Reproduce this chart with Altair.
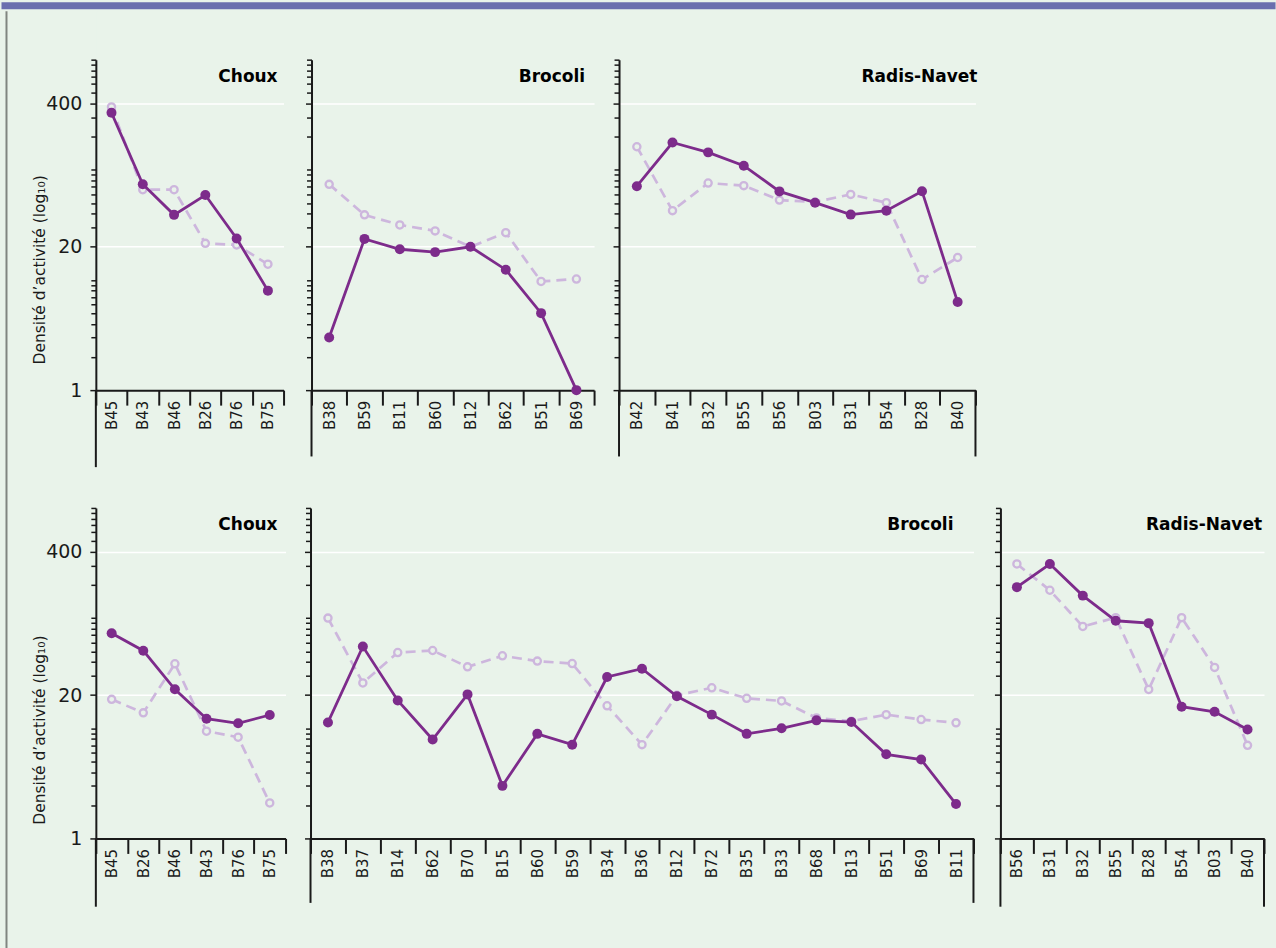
import altair as alt
import pandas as pd

# ---- values (activity density, log scale) ----
top_choux_cats = ["B45", "B43", "B46", "B26", "B76", "B75"]
top_choux_solid = [330, 74, 39, 59, 23.8, 8.0]
top_choux_dashed = [372, 66, 66, 21.5, 20.8, 13.9]

top_brocoli_cats = ["B38", "B59", "B11", "B60", "B12", "B62", "B51", "B69"]
top_brocoli_solid = [3.0, 23.6, 19.0, 17.9, 20.0, 12.4, 5.0, 1.0]
top_brocoli_dashed = [73.8, 39.0, 31.6, 27.9, 20.0, 26.9, 9.7, 10.2]

top_radis_cats = ["B42", "B41", "B32", "B55", "B56", "B03", "B31", "B54", "B28", "B40"]
top_radis_solid = [71, 177, 144, 109, 63.7, 50.3, 39.2, 42.6, 64, 6.3]
top_radis_dashed = [162, 42.6, 75.8, 71.8, 53.1, 51, 59.8, 50.3, 10.1, 16.0]

bot_choux_cats = ["B45", "B26", "B46", "B43", "B76", "B75"]
bot_choux_solid = [72.8, 50.6, 22.6, 12.2, 11.1, 13.2]
bot_choux_dashed = [18.3, 13.8, 38.5, 9.4, 8.3, 2.1]

bot_brocoli_cats = ["B38", "B37", "B14", "B62", "B70", "B15", "B60", "B59", "B34", "B36",
                    "B12", "B72", "B35", "B33", "B68", "B13", "B51", "B69", "B11"]
bot_brocoli_solid = [11.3, 55.2, 17.9, 7.9, 20.3, 3.0, 8.9, 7.1, 29.2, 34.7,
                     19.5, 13.3, 8.9, 10.0, 11.8, 11.4, 5.8, 5.2, 2.05]
bot_brocoli_dashed = [100, 25.8, 48.7, 50.8, 36.1, 45.5, 40.7, 38.7, 16.0, 7.1,
                      19.9, 23.3, 18.7, 17.7, 12.4, 11.6, 13.3, 12.0, 11.2]

bot_radis_cats = ["B56", "B31", "B32", "B55", "B28", "B54", "B03", "B40"]
bot_radis_solid = [191, 310, 160, 94.6, 90, 15.7, 14.1, 9.75]
bot_radis_dashed = [310, 179, 84, 101, 22.5, 101, 35.7, 7.0]

y_ticks = [1, 2, 3, 4, 5, 6, 7, 8, 9, 10,
           20, 30, 40, 50, 60, 70, 80, 90, 100,
           200, 300, 400, 500, 600, 700, 800, 900, 1000]

# ---- styling ----
BG = "#e9f3ea"
BAR = "#6a6fae"
EDGE = "#808580"
DARK = "#7d2b8b"
LIGHT = "#cdb6dd"
INK = "#1a1a1a"
FONT = "DejaVu Sans"

MAJOR = "datum.value == 1 || datum.value == 20 || datum.value == 400"
y_scale = alt.Scale(type="log", domain=[1, 1000], nice=False)


def y_axis(first, title_y=210):
    common = dict(
        values=y_ticks,
        grid=True,
        gridColor="white",
        gridWidth=1.5,
        gridOpacity={"condition": {"test": "datum.value == 20 || datum.value == 400", "value": 1}, "value": 0},
        tickColor=INK,
        tickWidth=1.5,
        tickSize={"condition": {"test": MAJOR, "value": 6}, "value": 5},
        domainColor=INK,
        domainWidth=2,
    )
    if first:
        return alt.Axis(
            labelExpr=MAJOR + " ? format(datum.value, 'd') : ''",
            labelFont=FONT,
            labelFontSize={"condition": {"test": MAJOR, "value": 19}, "value": 0},
            labelColor=INK,
            labelPadding=8,
            title="Densité d’activité (log₁₀)",
            titleFont=FONT,
            titleFontSize=15.5,
            titleFontWeight="normal",
            titleColor=INK,
            titleX=-51,
            titleY=title_y,
            titleBaseline="alphabetic",
            **common,
        )
    return alt.Axis(labels=False, title=None, **common)


x_axis = alt.Axis(
    title=None,
    labelAngle=-90,
    labelFont=FONT,
    labelFontSize=15,
    labelColor=INK,
    labelPadding=-5,
    tickBand="extent",
    tickSize=15,
    tickWidth=2,
    tickColor=INK,
    domainColor=INK,
    domainWidth=2,
    grid=False,
)


def panel(cats, solid, dashed, crop, width, first, drop, right_line, title_inset, title_y=210):
    n = len(cats)
    df = pd.DataFrame({
        "souche": cats * 2,
        "densite": solid + dashed,
        "serie": ["plein"] * n + ["tirets"] * n,
    })
    x_scale = alt.Scale(type="band", paddingInner=0, paddingOuter=0)
    yax = y_axis(first, title_y)
    x_enc = alt.X("souche:N", sort=cats, scale=x_scale, axis=x_axis)
    y_enc = alt.Y("densite:Q", scale=y_scale, axis=yax)
    base = alt.Chart(df).encode(x=x_enc, y=y_enc)

    dashed_line = base.transform_filter("datum.serie == 'tirets'").mark_line(
        color=LIGHT, strokeWidth=2.7, strokeDash=[10, 6])
    dashed_pts = base.transform_filter("datum.serie == 'tirets'").mark_point(
        shape="circle", size=52, fill=BG, fillOpacity=1, stroke=LIGHT, strokeWidth=2.3, opacity=1)
    solid_line = base.transform_filter("datum.serie == 'plein'").mark_line(
        color=DARK, strokeWidth=2.8)
    solid_pts = base.transform_filter("datum.serie == 'plein'").mark_circle(
        color=DARK, size=100, opacity=1)

    # vertical frame lines prolonging the axis below the category labels
    edges = pd.DataFrame({"souche": [cats[0]], "haut": [1.0], "bas": [drop]})
    left_rule = alt.Chart(edges).mark_rule(color=INK, strokeWidth=2).encode(
        x=alt.X("souche:N", sort=cats, scale=x_scale, axis=x_axis, bandPosition=0),
        y=alt.Y("haut:Q", scale=y_scale, axis=yax),
        y2="bas:Q",
    )
    layers = [dashed_line, dashed_pts, solid_line, solid_pts, left_rule]
    if right_line:
        edges_r = pd.DataFrame({"souche": [cats[-1]], "haut": [1.0], "bas": [drop]})
        right_rule = alt.Chart(edges_r).mark_rule(color=INK, strokeWidth=2).encode(
            x=alt.X("souche:N", sort=cats, scale=x_scale, axis=x_axis, bandPosition=1),
            y=alt.Y("haut:Q", scale=y_scale, axis=yax),
            y2="bas:Q",
        )
        layers.append(right_rule)

    label = alt.Chart(pd.DataFrame({"culture": [crop]})).mark_text(
        align="right", baseline="middle", font=FONT, fontSize=17, fontWeight="bold", color="black"
    ).encode(text="culture:N", x=alt.value(width - title_inset), y=alt.value(17))
    layers.append(label)

    return alt.layer(*layers).properties(width=width, height=331)


row_top = alt.hconcat(
    alt.hconcat(
        panel(top_choux_cats, top_choux_solid, top_choux_dashed, "Choux", 188, True, 0.2, False, 6, 210),
        panel(top_brocoli_cats, top_brocoli_solid, top_brocoli_dashed, "Brocoli", 283, False, 0.25, False, 9),
        spacing=18,
    ),
    panel(top_radis_cats, top_radis_solid, top_radis_dashed, "Radis-Navet", 357, False, 0.25, True, -2),
    spacing=15,
)
row_bottom = alt.hconcat(
    alt.hconcat(
        panel(bot_choux_cats, bot_choux_solid, bot_choux_dashed, "Choux", 190, True, 0.24, False, 8, 222),
        panel(bot_brocoli_cats, bot_brocoli_solid, bot_brocoli_dashed, "Brocoli", 664, False, 0.26, True, 20),
        spacing=15,
    ),
    panel(bot_radis_cats, bot_radis_solid, bot_radis_dashed, "Radis-Navet", 264, False, 0.24, True, 2),
    spacing=17,
)

dummy = pd.DataFrame({"v": [0]})


def block(width, height, fill):
    return alt.Chart(dummy).mark_point(size=1, opacity=0, strokeWidth=0).properties(
        width=width, height=height, view=alt.ViewBackground(fill=fill, stroke="transparent"))


top_gap = block(2, 46, BG)
panels = alt.vconcat(top_gap, alt.vconcat(row_top, row_bottom, spacing=37), spacing=0)
left_edge = alt.hconcat(block(2, 941, BG), block(2, 941, EDGE), spacing=0)
body = alt.hconcat(left_edge, panels, spacing=24)

chart = alt.vconcat(block(1276, 7, BAR), body, spacing=0).properties(
    padding=0, background=BG
).configure_view(stroke="transparent").configure_concat(spacing=0)

chart.save("out.html", embed_options={"renderer": "svg", "actions": False})
